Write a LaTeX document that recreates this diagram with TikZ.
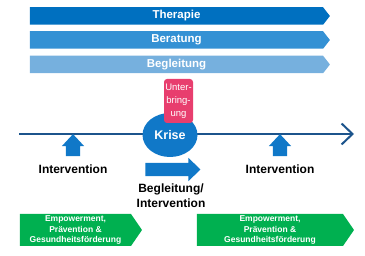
\documentclass[tikz,border=0pt]{standalone}
\usepackage{fontspec}
\setmainfont{Liberation Sans}
\usepackage{tikz}
\usetikzlibrary{arrows.meta,shapes.geometric,shapes.symbols,shapes.arrows,positioning}
\usepackage{xcolor}
\definecolor{therapieblue}{RGB}{0,112,192}
\definecolor{beratungblue}{RGB}{52,145,212}
\definecolor{begleitblue}{RGB}{118,176,222}
\definecolor{timelineblue}{RGB}{28,84,140}
\definecolor{kriseblue}{RGB}{16,120,200}
\definecolor{unterpink}{RGB}{232,62,110}
\definecolor{empgreen}{RGB}{0,176,80}

\begin{document}
\begin{tikzpicture}[x=1pt, y=-1pt, >=Stealth,
      band/.style={signal, signal to=east, signal pointer angle=104,
                   minimum width=300pt, minimum height=17.5pt, inner sep=0pt,
                   text=white, font=\bfseries\fontsize{11.5}{12}\selectfont},
      greenband/.style={signal, signal to=east, signal pointer angle=111,
                   fill=empgreen, minimum height=32pt, inner sep=0pt,
                   text=white, align=center,
                   font=\bfseries\fontsize{8.5}{10.5}\selectfont},
      uparr/.style={single arrow, shape border rotate=90, fill=kriseblue,
                   inner sep=0pt, text width=14pt, text height=0pt,
                   text depth=0pt, single arrow head extend=4pt,
                   single arrow tip angle=86, minimum height=22pt},
      rightarr/.style={single arrow, fill=kriseblue, inner sep=0pt,
                   text width=0pt, text height=6.5pt, text depth=6.5pt,
                   single arrow head extend=5pt, single arrow tip angle=88,
                   minimum height=55pt},
      lbl/.style={align=center, font=\bfseries\fontsize{12}{15}\selectfont},
      timeline/.style={arrows={-Straight Barb[length=11pt,width=21pt]},
                   line width=2pt, draw=timelineblue}
    ]
    \useasboundingbox (0,0) rectangle (365,256);

    % three bands on top
    \node[band, fill=therapieblue] (ther) at (176.5,16) {Therapie};
    \node[band, fill=beratungblue] (bera) at (176.5,40) {Beratung};
    \node[band, fill=begleitblue]  (begl) at (176.5,64.5) {Begleitung};

    % time line with the crisis
    \coordinate (tstart) at (19,134);
    \coordinate (tend) at (354,134);
    \draw[timeline] (tstart) -- (tend);

    \node[ellipse, fill=kriseblue, minimum width=55pt, minimum height=44pt,
          text=white, font=\bfseries\fontsize{12.5}{13}\selectfont]
          (krise) at (170,135) {Krise};
    \node[fill=unterpink, rounded corners=3pt, minimum width=29pt,
          minimum height=44pt, inner sep=0pt, align=center, text=white,
          font=\fontsize{9.5}{13}\selectfont]
          (unter) at (178.5,101) {Unter-\\bring-\\ung};

    % interventions
    \node[uparr] (upl) at (73,149) {};
    \node[lbl] (intl) at (73,169) {Intervention};
    \node[uparr] (upr) at (280,149) {};
    \node[lbl] (intr) at (280,169) {Intervention};

    \node[rightarr] (begarr) at (169.5,169.5) {};
    \node[lbl] (begint) at (171,195.5) {Begleitung/\\Intervention};

    % prevention bands
    \node[greenband, minimum width=122pt] (empl) at (75.5,230)
          {Empowerment,\\Prävention \&\\Gesundheitsförderung};
    \node[greenband, minimum width=157pt] (empr) at (270,230)
          {Empowerment,\\Prävention \&\\Gesundheitsförderung};
\end{tikzpicture}
\end{document}
